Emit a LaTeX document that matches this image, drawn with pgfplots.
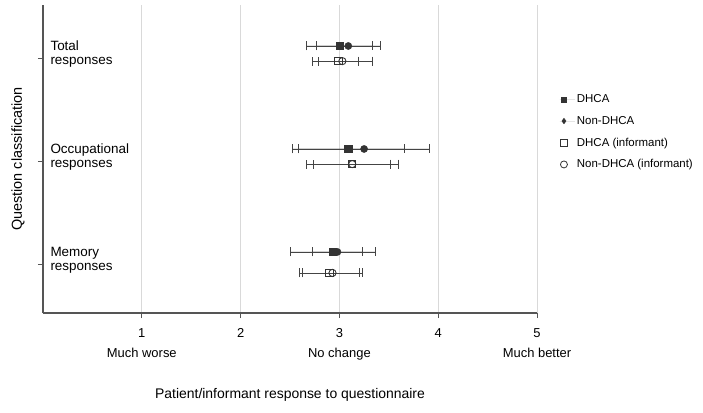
\documentclass[border=0pt]{standalone}
\usepackage{pgfplots}
\pgfplotsset{compat=1.18}
\usepackage{fontspec}
\setmainfont{Liberation Sans}
\definecolor{mk}{HTML}{333333}
\definecolor{eb}{HTML}{444444}
\definecolor{gridc}{HTML}{D9D9D9}
\definecolor{axc}{HTML}{555555}
\begin{document}
\begin{tikzpicture}[x=1bp,y=1bp]
\path[use as bounding box] (-43,-99) rectangle (660,313);
\begin{axis}[
  at={(0,0)}, anchor=south west,
  width=494bp, height=308bp, scale only axis,
  xmin=0, xmax=5, ymin=0.524, ymax=3.515,
  axis x line=bottom, axis y line=left,
  axis line style={draw=axc, line width=1.2bp, -},
  xtick={1,2,3,4,5},
  xticklabels={{1\\[4bp]Much worse},2,{3\\[4bp]No change},4,{5\\[4bp]Much better}},
  xticklabel style={align=center, font=\fontsize{13}{16}\selectfont, text=black, yshift=-7bp},
  ytick={1,2,3},
  yticklabels={{Memory\\responses},{Occupational\\responses},{Total\\responses}},
  yticklabel style={anchor=west, align=left, xshift=9bp, yshift=4bp, font=\fontsize{13.5}{14}\selectfont},
  tick align=outside, tick style={draw=axc, line width=0.8bp},
  major tick length=5bp,
  xmajorgrids, grid style={draw=gridc, line width=1bp},
  xlabel={Patient/informant response to questionnaire},
  xlabel style={font=\fontsize{14}{16}\selectfont, at={(axis description cs:0.5,-0.266)}, anchor=center},
  ylabel={Question classification},
  ylabel style={font=\fontsize{14.5}{16}\selectfont, at={(axis description cs:-0.0506,0.5)}, anchor=center},
  legend style={at={(1.04,0.722)}, anchor=north west, draw=none, fill=none,
    font=\fontsize{11.5}{13}\selectfont, row sep=8bp, cells={anchor=west}},
  legend cell align=left,
  error bars/x dir=both, error bars/x explicit,
  error bars/error bar style={draw=eb, line width=0.8bp},
  error bars/error mark options={draw=eb, line width=0.8bp, mark size=4.5bp, rotate=90},
]
\addplot[only marks, mark=square*, mark size=3.6bp, draw=mk, fill=mk,
  legend image code/.code={\path[draw=none] (0,0) -- (15bp,0); \draw[mark=square*, mark size=2.5bp, draw=mk, fill=mk] plot coordinates {(4bp,0bp)};}]
  coordinates {(3.00,3.117) +- (0.33,0) (3.09,2.117) +- (0.565,0) (2.93,1.117) +- (0.43,0)};
\addlegendentry{DHCA}
\addplot[only marks, mark=*, mark size=3.6bp, draw=mk, fill=mk,
  legend image code/.code={\path[draw=none] (0,0) -- (15bp,0); \draw[mark=diamond*, mark size=2.8bp, draw=mk, fill=mk] plot coordinates {(4bp,0bp)};}]
  coordinates {(3.09,3.117) +- (0.32,0) (3.25,2.117) +- (0.665,0) (2.98,1.117) +- (0.255,0)};
\addlegendentry{Non-DHCA}
\addplot[only marks, mark=square, mark size=3.6bp, draw=mk, line width=0.9bp, fill=white,
  legend image code/.code={\path[draw=none] (0,0) -- (15bp,0); \draw[mark=square, mark size=3.3bp, draw=mk, line width=0.8bp] plot coordinates {(4bp,0bp)};}]
  coordinates {(2.99,2.97) +- (0.2,0) (3.13,1.97) +- (0.39,0) (2.90,0.913) +- (0.305,0)};
\addlegendentry{DHCA (informant)}
\addplot[only marks, mark=o, mark size=3.6bp, draw=mk, line width=0.9bp,
  legend image code/.code={\path[draw=none] (0,0) -- (15bp,0); \draw[mark=o, mark size=3.5bp, draw=mk, line width=0.8bp] plot coordinates {(4bp,0bp)};}]
  coordinates {(3.03,2.97) +- (0.30,0) (3.13,1.97) +- (0.465,0) (2.93,0.913) +- (0.305,0)};
\addlegendentry{Non-DHCA (informant)}
\end{axis}
\end{tikzpicture}
\end{document}
